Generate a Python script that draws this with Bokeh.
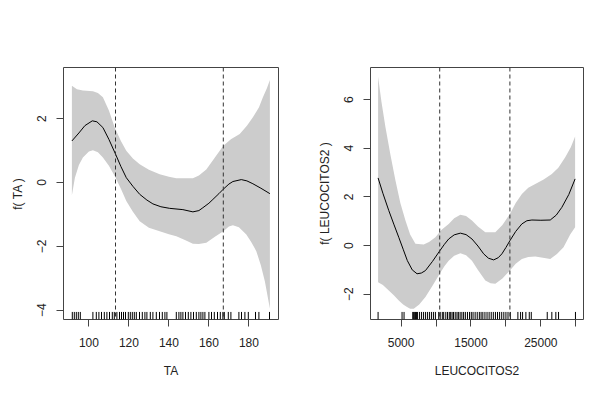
from bokeh.plotting import figure
from bokeh.models import Range1d, Span, FixedTicker
from bokeh.layouts import row
from bokeh.embed import file_html
from bokeh.resources import INLINE

# ---------------- data: left panel (TA) ----------------
ta_fit_x = [91.5, 95, 98, 101.7, 104, 107, 110, 113.3, 116, 118.7, 122, 125.4, 129, 132, 136,
            140.4, 147, 152, 155, 157, 160, 162, 165, 167.2, 170, 172, 176.2, 179, 182, 186, 190.5]
ta_fit_y = [1.30, 1.55, 1.78, 1.93, 1.90, 1.72, 1.35, 0.89, 0.50, 0.15, -0.12, -0.37, -0.55, -0.67, -0.76,
            -0.81, -0.85, -0.92, -0.88, -0.79, -0.65, -0.53, -0.35, -0.21, -0.05, 0.03, 0.09, 0.05, -0.04, -0.18, -0.35]
ta_up_x = [91.5, 94, 97, 102, 104.5, 107, 110, 112.9, 116, 118.7, 122, 125.4, 130, 135.4, 140, 143.7,
           152, 155, 158.7, 163, 167.2, 171, 175.4, 179, 182, 185, 187, 189, 190.5]
ta_up_y = [3.03, 2.92, 2.88, 2.86, 2.80, 2.67, 2.25, 1.72, 1.30, 0.99, 0.75, 0.57, 0.40, 0.26, 0.18, 0.13,
           0.13, 0.22, 0.41, 0.78, 1.15, 1.35, 1.52, 1.78, 2.04, 2.35, 2.67, 2.95, 3.21]
ta_lo_x = [91.5, 93, 95, 97, 100, 102, 104.5, 107, 110, 112.9, 116, 118.7, 122, 125.4, 130, 135.4, 140,
           143.7, 148, 152, 155, 158.7, 163, 167.2, 170, 172, 175, 178.7, 181, 183.7, 186, 188, 190.5]
ta_lo_y = [-0.40, 0.15, 0.55, 0.78, 0.97, 1.01, 0.95, 0.78, 0.52, 0.20, -0.20, -0.58, -0.92, -1.21, -1.42,
           -1.53, -1.62, -1.68, -1.80, -1.92, -1.93, -1.89, -1.70, -1.53, -1.38, -1.34, -1.40, -1.63, -1.85,
           -2.15, -2.60, -3.10, -3.95]
ta_knots = [113.3, 167.2]
ta_rug = [91.7, 92.7, 93.7, 94.7, 95.7, 102, 103.7, 105, 106.3, 107.7, 109, 110.3, 111.7, 112.7, 114,
          115.3, 116.3, 117.3, 118.3, 119.7, 120.7, 121.7, 122.7, 123.7, 125.3, 126.7, 128, 129, 130.7,
          132, 133.7, 135.3, 136.7, 138, 139, 143.7, 145, 146, 147, 148.3, 149.7, 151, 152.3, 153.7, 155,
          156, 157, 158, 160, 161.3, 162.7, 164.3, 165.7, 167, 167.7, 169.7, 171, 175, 176.3, 178, 179.7,
          183.3, 185, 190.3]
ta_xticks = [100, 120, 140, 160, 180]
ta_yticks = [-4, -2, 0, 2]

# ---------------- data: right panel (LEUCOCITOS2) ----------------
le_fit_x = [1714, 2400, 3243, 4000, 4671, 5300, 5900, 6600, 7286, 7900, 8486, 9500, 10529, 11200, 11814,
            12600, 13486, 14300, 15143, 16000, 16814, 17500, 18243, 18900, 19429, 20000, 20571, 21400,
            22286, 23000, 23714, 25000, 26343, 27200, 28000, 29000, 29900]
le_fit_y = [2.78, 2.15, 1.44, 0.85, 0.34, -0.15, -0.62, -1.00, -1.16, -1.13, -1.03, -0.65, -0.22, 0.05, 0.27,
            0.44, 0.51, 0.45, 0.27, -0.02, -0.34, -0.52, -0.59, -0.50, -0.34, -0.08, 0.20, 0.58,
            0.89, 1.02, 1.05, 1.04, 1.05, 1.25, 1.57, 2.10, 2.74]
le_up_x = [1714, 2200, 2771, 3500, 4200, 4900, 5629, 6300, 7057, 8243, 9000, 9914, 10800, 11814, 12600,
           13486, 14300, 15143, 16000, 17057, 18486, 19500, 20571, 21400, 22286, 23200, 24200, 25400,
           26571, 27500, 28486, 29300, 29900]
le_up_y = [6.94, 5.90, 4.86, 3.70, 2.67, 1.75, 1.03, 0.45, 0.07, 0.04, 0.15, 0.34, 0.65, 0.89, 1.12,
           1.27, 1.22, 1.03, 0.78, 0.55, 0.55, 0.85, 1.30, 1.75, 2.12, 2.38, 2.53, 2.72,
           2.94, 3.20, 3.63, 4.05, 4.48]
le_lo_x = [1714, 2400, 3243, 4000, 4671, 5300, 5857, 6300, 6814, 7600, 8486, 9500, 10529, 11200, 11814,
           12600, 13486, 14300, 15143, 16000, 17057, 17800, 18486, 19500, 20571, 21400, 22286, 23200,
           24200, 25300, 26343, 27300, 28243, 29200, 29900]
le_lo_y = [-1.51, -1.62, -1.85, -2.05, -2.26, -2.42, -2.53, -2.60, -2.60, -2.42, -2.12, -1.65, -1.16, -0.85,
           -0.62, -0.42, -0.32, -0.40, -0.62, -1.00, -1.44, -1.55, -1.57, -1.35, -1.03, -0.75, -0.55, -0.47,
           -0.45, -0.50, -0.55, -0.35, -0.07, 0.45, 0.75]
le_knots = [10529, 20571]
le_rug = [1714, 5143, 5429, 6671, 6800, 6950, 7057, 7200, 7343, 7629, 7914, 8200, 8486, 8771, 9057, 9343,
          9629, 9914, 10386, 10600, 10900, 11100, 11400, 11650, 11900, 12100, 12300, 12500, 12750, 13000,
          13200, 13450, 13700, 13950, 14200, 14500, 14800, 15050, 15300, 15600, 15900, 16200, 16450, 16700,
          17000, 17300, 17600, 17900, 18200, 18500, 18800, 19100, 19400, 19700, 20000, 20300, 20629, 21714,
          22100, 22386, 22857, 23343, 23629, 25914, 26571, 27143, 27529, 29950]
le_xticks = [5000, 10000, 15000, 20000, 25000, 30000]
le_xlabels = {10000: "", 20000: "", 30000: ""}
le_yticks = [-2, 0, 2, 4, 6]

FONT = "Liberation Sans"
TXT = "#222222"


def panel(width, bl, br, xr, yr, fx, fy, ux, uy, lx, ly, knots, rug, xticks, yticks, xlab, ylab, overrides=None):
    p = figure(width=width, height=385, x_range=Range1d(*xr), y_range=Range1d(*yr),
               output_backend="svg", toolbar_location=None,
               min_border_left=bl, min_border_right=br, min_border_top=67, min_border_bottom=66)
    p.xgrid.visible = False
    p.ygrid.visible = False
    p.outline_line_color = "#444444"
    p.outline_line_width = 1
    p.background_fill_color = "white"
    p.border_fill_color = "white"

    p.patch(x=ux + lx[::-1], y=uy + ly[::-1], fill_color="#cccccc", line_color=None)
    p.line(fx, fy, line_color="black", line_width=1)
    for k in knots:
        p.add_layout(Span(location=k, dimension="height", line_color="#333333",
                          line_dash="4 3", line_width=1))
    ymin, ymax = yr
    p.segment(x0=rug, x1=rug, y0=[ymin] * len(rug), y1=[ymin + 0.03 * (ymax - ymin)] * len(rug),
              line_color="black", line_width=1)

    for ax in (p.xaxis, p.yaxis):
        ax.axis_line_color = None
        ax.major_tick_line_color = "#444444"
        ax.major_tick_out = 7
        ax.major_tick_in = 0
        ax.minor_tick_line_color = None
        ax.major_label_text_font = FONT
        ax.major_label_text_font_size = "12px"
        ax.major_label_text_color = TXT
        ax.axis_label_text_font = FONT
        ax.axis_label_text_font_size = "12px"
        ax.axis_label_text_font_style = "normal"
        ax.axis_label_text_color = TXT
    p.xaxis.ticker = FixedTicker(ticks=xticks)
    p.yaxis.ticker = FixedTicker(ticks=yticks)
    if overrides:
        p.xaxis.major_label_overrides = overrides
    p.xaxis.major_label_standoff = 11
    p.xaxis.axis_label_standoff = 14
    p.yaxis.major_label_orientation = "vertical"
    p.yaxis.major_label_standoff = 10
    p.yaxis.axis_label_standoff = 10
    p.xaxis.axis_label = xlab
    p.yaxis.axis_label = ylab
    return p


p1 = panel(306, 63, 28, (87.3, 194.8), (-4.29, 3.6), ta_fit_x, ta_fit_y, ta_up_x, ta_up_y,
           ta_lo_x, ta_lo_y, ta_knots, ta_rug, ta_xticks, ta_yticks, "TA", "f( TA )")
p2 = panel(295, 64, 18, (629, 31100), (-3.04, 7.32), le_fit_x, le_fit_y, le_up_x, le_up_y,
           le_lo_x, le_lo_y, le_knots, le_rug, le_xticks, le_yticks, "LEUCOCITOS2",
           "f( LEUCOCITOS2 )", le_xlabels)

p = row(p1, p2)
open("out.html", "w").write(file_html(p, INLINE))
